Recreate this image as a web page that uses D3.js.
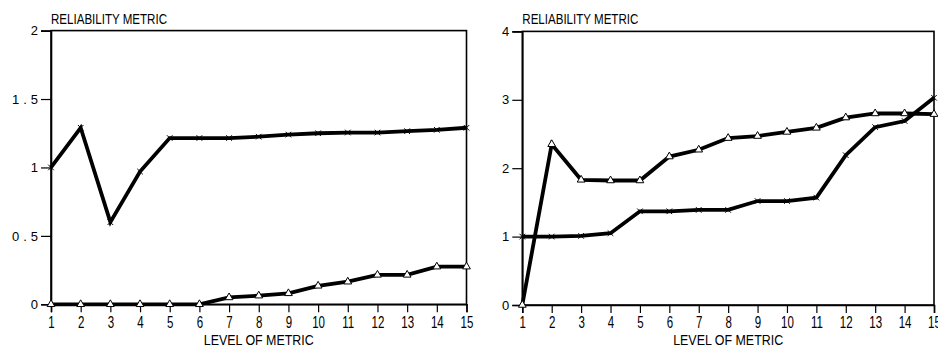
<!DOCTYPE html>
<html>
<head>
<meta charset="utf-8">
<script src="https://cdn.jsdelivr.net/npm/d3@7"></script>
<style>
  html, body { margin: 0; padding: 0; background: #fff; }
  svg { display: block; }
  text { font-family: "Liberation Sans", Arial, sans-serif; fill: #000; }
</style>
</head>
<body>
<svg id="chart" width="938" height="349"></svg>
<script>
// ---- data ----
const levels = [1, 2, 3, 4, 5, 6, 7, 8, 9, 10, 11, 12, 13, 14, 15];

const leftCross    = [1.00, 1.29, 0.60, 0.97, 1.215, 1.215, 1.215, 1.225, 1.24, 1.25, 1.255, 1.255, 1.265, 1.275, 1.29];
const leftTriangle = [0, 0, 0, 0, 0, 0, 0.05, 0.063, 0.08, 0.135, 0.165, 0.215, 0.215, 0.275, 0.275];

const rightTriangle = [0, 2.35, 1.83, 1.82, 1.82, 2.17, 2.27, 2.44, 2.47, 2.53, 2.59, 2.74, 2.80, 2.80, 2.79];
const rightCross    = [1.00, 1.00, 1.01, 1.05, 1.37, 1.37, 1.39, 1.39, 1.52, 1.52, 1.57, 2.19, 2.60, 2.69, 3.03];

const leftYTicks  = [0, 0.5, 1, 1.5, 2];
const leftYLabels = ["0", "0.5", "1", "1.5", "2"];
const rightYTicks  = [0, 1, 2, 3, 4];
const rightYLabels = ["0", "1", "2", "3", "4"];

const yTitle = "RELIABILITY METRIC";
const xTitle = "LEVEL OF METRIC";

// ---- layout ----
const svg = d3.select("#chart");
const panels = [
  { x0: 51,  x1: 466.5, y0: 304.3, y1: 30.6, yMax: 2, ticks: leftYTicks,  labels: leftYLabels,
    series: [ {v: leftCross, m: "cross"}, {v: leftTriangle, m: "tri"} ] },
  { x0: 522.3, x1: 934, y0: 305, y1: 31.4, yMax: 4, ticks: rightYTicks, labels: rightYLabels,
    series: [ {v: rightTriangle, m: "tri"}, {v: rightCross, m: "cross"} ] }
];

panels.forEach(p => {
  const x = d3.scaleLinear().domain([levels[0], levels[levels.length - 1]]).range([p.x0, p.x1]);
  const y = d3.scaleLinear().domain([0, p.yMax]).range([p.y0, p.y1]);
  const g = svg.append("g");

  // frame
  g.append("rect")
    .attr("x", p.x0).attr("y", p.y1)
    .attr("width", p.x1 - p.x0).attr("height", p.y0 - p.y1)
    .attr("fill", "none").attr("stroke", "#000").attr("stroke-width", 1.6);

  // y axis
  const ya = g.append("g").attr("transform", `translate(${p.x0},0)`)
    .call(d3.axisLeft(y).tickValues(p.ticks).tickFormat((d, i) => p.labels[i]).tickSize(10).tickPadding(3));
  ya.select(".domain").attr("stroke-width", 1.6);
  ya.selectAll(".tick line").attr("stroke-width", 1.2);
  ya.selectAll(".tick text").attr("font-size", 13).style("letter-spacing", "4px")
    .attr("font-family", "Liberation Sans, Arial, sans-serif").attr("dx", "4");

  // x axis
  const xa = g.append("g").attr("transform", `translate(0,${p.y0})`)
    .call(d3.axisBottom(x).tickValues(levels).tickFormat(d3.format("d")).tickSize(8).tickPadding(4));
  xa.select(".domain").attr("stroke-width", 1.6);
  xa.selectAll(".tick line").attr("stroke-width", 1.2);
  xa.selectAll(".tick text").attr("font-size", 16)
    .attr("font-family", "Liberation Sans, Arial, sans-serif")
    .attr("transform", "scale(0.72,1)");

  // titles
  g.append("text").attr("x", p.x0).attr("y", 24)
    .attr("font-size", 14.5).attr("textLength", 116).attr("lengthAdjust", "spacingAndGlyphs")
    .text(yTitle);
  g.append("text").attr("x", (p.x0 + p.x1) / 2 - 55).attr("y", 345)
    .attr("font-size", 15.5).attr("textLength", 110).attr("lengthAdjust", "spacingAndGlyphs")
    .text(xTitle);

  // series
  const line = d3.line().x((d, i) => x(levels[i])).y(d => y(d));
  p.series.forEach(s => {
    g.append("path").datum(s.v).attr("d", line)
      .attr("fill", "none").attr("stroke", "#000").attr("stroke-width", 3.8)
      .attr("stroke-linejoin", "miter");
    const sym = s.m === "cross" ? d3.symbolX : d3.symbolTriangle;
    const size = s.m === "cross" ? 22 : 26;
    g.selectAll(null).data(s.v).enter().append("path")
      .attr("transform", (d, i) => `translate(${x(levels[i])},${y(d)})`)
      .attr("d", d3.symbol().type(sym).size(size))
      .attr("fill", s.m === "cross" ? "none" : "#fff")
      .attr("stroke", "#000").attr("stroke-width", 1);
  });
});
</script>
</body>
</html>
